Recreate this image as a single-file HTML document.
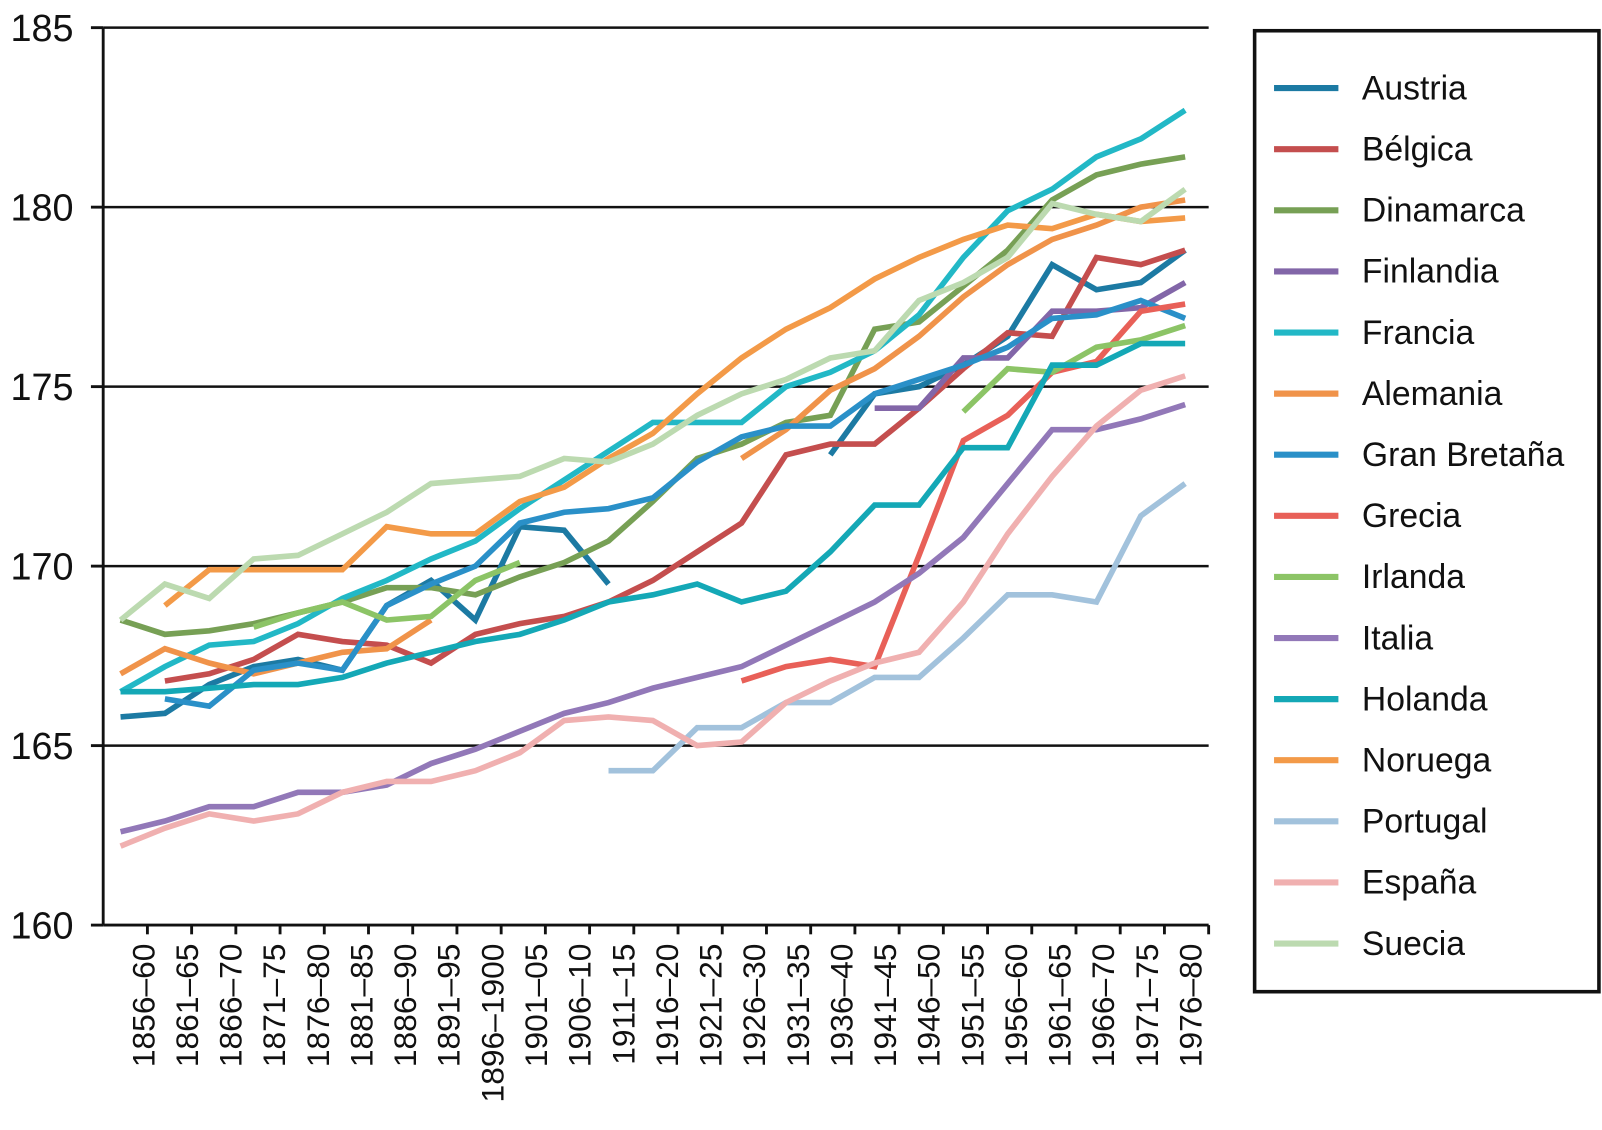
<!DOCTYPE html>
<html><head><meta charset="utf-8"><style>
html,body{margin:0;padding:0;background:#fff;}
svg{display:block;font-family:"Liberation Sans",Arial,sans-serif;}
</style></head><body>
<svg id="chart" width="1602" height="1130" viewBox="0 0 1568 1103" preserveAspectRatio="none" xmlns="http://www.w3.org/2000/svg">
<g id="grid"></g>
<g id="series"></g>
<g id="axes"></g>
<g id="legend"></g>
</svg>
<script>
const categories=["1856–60","1861–65","1866–70","1871–75","1876–80","1881–85","1886–90","1891–95","1896–1900","1901–05","1906–10","1911–15","1916–20","1921–25","1926–30","1931–35","1936–40","1941–45","1946–50","1951–55","1956–60","1961–65","1966–70","1971–75","1976–80"];
const yTicks=[160,165,170,175,180,185];
const seriesNames=["Austria","Bélgica","Dinamarca","Finlandia","Francia","Alemania","Gran Bretaña","Grecia","Irlanda","Italia","Holanda","Noruega","Portugal","España","Suecia"];
const seriesColors=["#1c7aa3","#c44e4e","#77a055","#8266a8","#22b8c6","#f0934a","#2a90c8","#e86058","#8cc466","#9278b8","#14a8b6","#f39a48","#a2c2dc","#f0b0b0","#bcdab0"];
const austria=[165.8,165.9,166.7,167.2,167.4,167.1,168.9,169.6,168.5,171.1,171.0,169.5,null,null,null,null,173.1,174.8,175.0,175.6,176.4,178.4,177.7,177.9,178.8];
const belgica=[null,166.8,167.0,167.4,168.1,167.9,167.8,167.3,168.1,168.4,168.6,169.0,169.6,170.4,171.2,173.1,173.4,173.4,174.4,175.5,176.5,176.4,178.6,178.4,178.8];
const dinamarca=[168.5,168.1,168.2,168.4,168.7,169.0,169.4,169.4,169.2,169.7,170.1,170.7,171.8,173.0,173.4,174.0,174.2,176.6,176.8,177.8,178.8,180.2,180.9,181.2,181.4];
const finlandia=[null,null,null,null,null,null,null,null,null,null,null,null,null,null,null,null,null,174.4,174.4,175.8,175.8,177.1,177.1,177.2,177.9];
const francia=[166.5,167.2,167.8,167.9,168.4,169.1,169.6,170.2,170.7,171.6,172.4,173.2,174.0,174.0,174.0,175.0,175.4,176.0,177.0,178.6,179.9,180.5,181.4,181.9,182.7];
const alemania=[167.0,167.7,167.3,167.0,167.3,167.6,167.7,168.5,null,null,null,null,null,null,173.0,173.8,174.9,175.5,176.4,177.5,178.4,179.1,179.5,180.0,180.2];
const granBretana=[null,166.3,166.1,167.1,167.3,167.1,168.9,169.5,170.0,171.2,171.5,171.6,171.9,172.9,173.6,173.9,173.9,174.8,175.2,175.6,176.1,176.9,177.0,177.4,176.9];
const grecia=[null,null,null,null,null,null,null,null,null,null,null,null,null,null,166.8,167.2,167.4,167.2,170.3,173.5,174.2,175.4,175.7,177.1,177.3];
const irlanda=[null,null,null,168.3,168.7,169.0,168.5,168.6,169.6,170.1,null,null,null,null,null,null,null,null,null,174.3,175.5,175.4,176.1,176.3,176.7];
const italia=[162.6,162.9,163.3,163.3,163.7,163.7,163.9,164.5,164.9,165.4,165.9,166.2,166.6,166.9,167.2,167.8,168.4,169.0,169.8,170.8,172.3,173.8,173.8,174.1,174.5];
const holanda=[166.5,166.5,166.6,166.7,166.7,166.9,167.3,167.6,167.9,168.1,168.5,169.0,169.2,169.5,169.0,169.3,170.4,171.7,171.7,173.3,173.3,175.6,175.6,176.2,176.2];
const noruega=[null,168.9,169.9,169.9,169.9,169.9,171.1,170.9,170.9,171.8,172.2,173.0,173.7,174.8,175.8,176.6,177.2,178.0,178.6,179.1,179.5,179.4,179.8,179.6,179.7];
const portugal=[null,null,null,null,null,null,null,null,null,null,null,164.3,164.3,165.5,165.5,166.2,166.2,166.9,166.9,168.0,169.2,169.2,169.0,171.4,172.3];
const espana=[162.2,162.7,163.1,162.9,163.1,163.7,164.0,164.0,164.3,164.8,165.7,165.8,165.7,165.0,165.1,166.2,166.8,167.3,167.6,169.0,170.9,172.5,173.9,174.9,175.3];
const suecia=[168.5,169.5,169.1,170.2,170.3,170.9,171.5,172.3,172.4,172.5,173.0,172.9,173.4,174.2,174.8,175.2,175.8,176.0,177.4,177.9,178.6,180.1,179.8,179.6,180.5];
const allSeries=[austria,belgica,dinamarca,finlandia,francia,alemania,granBretana,grecia,irlanda,italia,holanda,noruega,portugal,espana,suecia];

const NS="http://www.w3.org/2000/svg";
const L=101,R=1183,T=27,B=903;
function yScale(v){return B-(v-160)/(185-160)*(B-T);}
function xScale(i){return 118+i*(1160-118)/(categories.length-1);}
function mk(tag,attrs,parent){const e=document.createElementNS(NS,tag);for(const k in attrs)e.setAttribute(k,attrs[k]);parent.appendChild(e);return e;}

const grid=document.getElementById('grid'),axes=document.getElementById('axes'),sg=document.getElementById('series'),lg=document.getElementById('legend');
yTicks.forEach(t=>{
  const y=yScale(t);
  if(t>160){const g=mk('line',{x1:L,x2:R,y1:y,y2:y,stroke:'#111','stroke-width':2.4},grid);
  
  }
  const tk=mk('line',{x1:89,x2:L,y1:y,y2:y,stroke:'#111','stroke-width':2.8},axes);
  
  
  const tx=mk('text',{x:72,y:y+13,'text-anchor':'end','font-size':37,fill:'#111'},axes);
  tx.textContent=t;
  
  
});
const ya=mk('line',{x1:L,x2:L,y1:T,y2:B,stroke:'#111','stroke-width':2.8},axes);


const xa=mk('line',{x1:L,x2:R,y1:B,y2:B,stroke:'#111','stroke-width':2.8},axes);


const step=(R-L)/categories.length;
for(let k=1;k<=categories.length;k++){
  const x=L+k*step;
  const tk=mk('line',{x1:x,x2:x,y1:B,y2:B+9,stroke:'#111','stroke-width':2.8},axes);
  
  
}
categories.forEach((c,i)=>{
  const x=140+i*(1165-140)/(categories.length-1);
  const tx=mk('text',{x:0,y:0,'text-anchor':'end','font-size':31,fill:'#111',transform:`translate(${x+11},${921}) rotate(-90)`},axes);
  tx.textContent=c;
  
  
});
allSeries.forEach((s,si)=>{
  let d='',pen=false;
  s.forEach((v,i)=>{
    if(v==null){pen=false;return;}
    d+=(pen?'L':'M')+xScale(i).toFixed(1)+' '+yScale(v).toFixed(1)+' ';pen=true;
  });
  const p=mk('path',{d:d,fill:'none',stroke:seriesColors[si],'stroke-width':5.5,'stroke-linejoin':'miter'},sg);
  
  
});
const box=mk('rect',{x:1228,y:30,width:337,height:938,fill:'#fff',stroke:'#111','stroke-width':3.5},lg);


seriesNames.forEach((n,i)=>{
  const y=85+i*(920-85)/14;
  const g=mk('g',{},lg);
  
  
  mk('line',{x1:1247,x2:1310,y1:y+1,y2:y+1,stroke:seriesColors[i],'stroke-width':6},g);
  const t=mk('text',{x:1333,y:y+12,'font-size':33,fill:'#111'},g);
  t.textContent=n;
});
</script>
</body></html>
